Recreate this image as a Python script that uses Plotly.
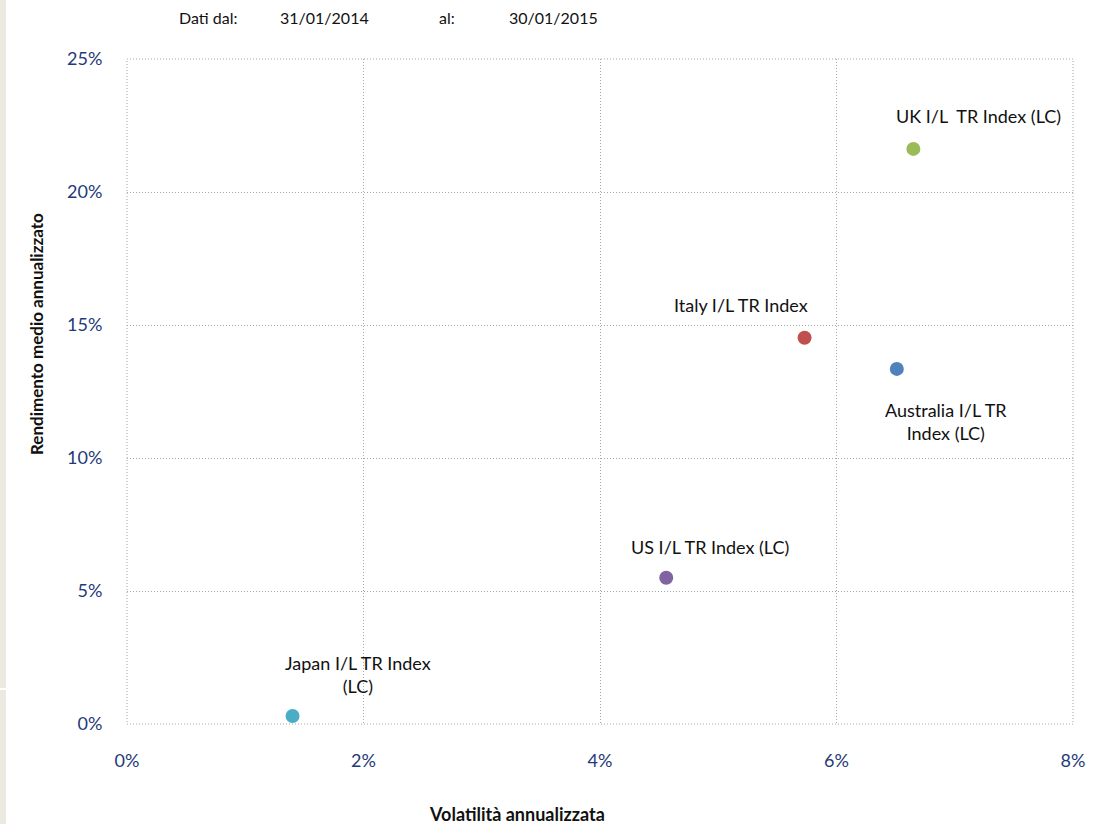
import plotly.graph_objects as go

# Data (volatility %, return %)
names = [
    "Japan I/L TR Index<br>(LC)",
    "US I/L TR Index (LC)",
    "Italy I/L TR Index",
    "Australia I/L TR<br>Index (LC)",
    "UK I/L  TR Index (LC)",
]
volatility = [1.40, 4.56, 5.73, 6.51, 6.65]
returns = [0.30, 5.50, 14.52, 13.35, 21.62]
colors = ["#4BACC6", "#8064A2", "#C0504D", "#4F81BD", "#9BBB59"]

# label offsets in pixels relative to each point
label_dx = [65, 44, -64, 49, 65]
label_dy = [42, 31, 33, -53, 33]

x_ticks = [0, 2, 4, 6, 8]
y_ticks = [0, 5, 10, 15, 20, 25]

TICK_COLOR = "#1F3A78"
GRID = "#A6A6A6"
FONT = "Lato, 'Open Sans', sans-serif"

fig = go.Figure()

fig.add_trace(go.Scatter(
    x=volatility,
    y=returns,
    mode="markers",
    marker=dict(size=14, color=colors, line=dict(width=0)),
    hoverinfo="skip",
    showlegend=False,
))

for name, x, y, dx, dy in zip(names, volatility, returns, label_dx, label_dy):
    fig.add_annotation(
        x=x, y=y, text=name, showarrow=False,
        xshift=dx, yshift=dy, align="center",
        font=dict(family=FONT, size=18, color="#111111"),
    )

# header text
header = [("Dati dal:", 208), ("31/01/2014", 324), ("al:", 447), ("30/01/2015", 553)]
for txt, px in header:
    fig.add_annotation(
        x=(px - 127) / 946, y=1 + (59 - 18) / 665, xref="paper", yref="paper",
        text=txt, showarrow=False, xanchor="center", yanchor="middle",
        font=dict(family=FONT, size=16, color="#111111"),
    )

# axis titles
fig.add_annotation(
    x=(517 - 127) / 946, y=-(814 - 724) / 665, xref="paper", yref="paper",
    text="<b>Volatilità annualizzata</b>", showarrow=False,
    xanchor="center", yanchor="middle",
    font=dict(family=FONT, size=18, color="#111111"),
)
fig.add_annotation(
    x=-(127 - 36) / 946, y=(724 - 334) / 665, xref="paper", yref="paper",
    text="<b>Rendimento medio annualizzato</b>", showarrow=False, textangle=-90,
    xanchor="center", yanchor="middle",
    font=dict(family=FONT, size=17, color="#111111"),
)

# dotted border around the plot area
fig.add_shape(type="rect", xref="paper", yref="paper", x0=0, x1=1, y0=0, y1=1,
              line=dict(color=GRID, width=1, dash="1px,2px"), layer="below")

# beige strip at the left edge of the page
fig.add_shape(type="rect", xref="paper", yref="paper",
              x0=-127 / 946, x1=-121 / 946, y0=-100 / 665, y1=(724 - 690) / 665,
              fillcolor="#ECE9E0", line=dict(width=0), layer="below")
fig.add_shape(type="rect", xref="paper", yref="paper",
              x0=-127 / 946, x1=-121 / 946, y0=(724 - 688) / 665, y1=1 + 59 / 665,
              fillcolor="#ECE9E0", line=dict(width=0), layer="below")

axis_common = dict(
    showgrid=True, gridcolor=GRID, griddash="1px,2px", gridwidth=1,
    zeroline=False, showline=False,
    ticks="outside", tickcolor="rgba(0,0,0,0)",
    tickfont=dict(family=FONT, size=18, color=TICK_COLOR),
)

fig.update_layout(
    width=1103, height=824,
    paper_bgcolor="white", plot_bgcolor="white",
    margin=dict(l=127, r=30, t=59, b=100),
    xaxis=dict(range=[0, 8], tickvals=x_ticks, ticktext=[f"{v}%" for v in x_ticks],
               ticklen=20, **axis_common),
    yaxis=dict(range=[0, 25], tickvals=y_ticks, ticktext=[f"{v}%" for v in y_ticks],
               ticklen=20, **axis_common),
)

fig.write_html("out.html", config={"displayModeBar": False},
               post_script="document.body.style.margin='0';")
